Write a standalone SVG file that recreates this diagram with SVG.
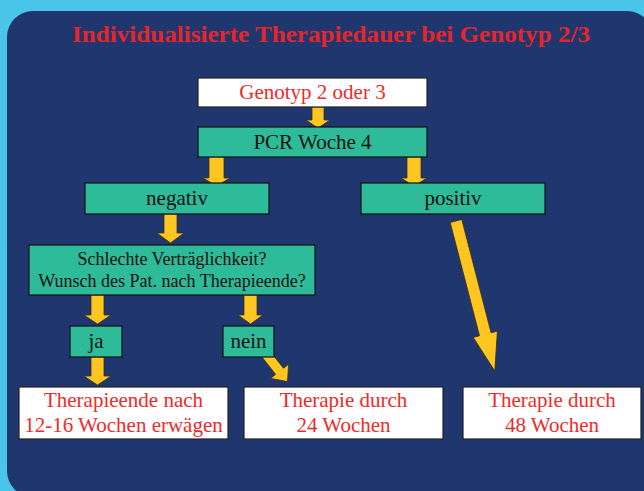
<svg xmlns="http://www.w3.org/2000/svg" width="644" height="491" viewBox="0 0 644 491">
<defs>
<style>
.bg{fill:#48C5E9}
.panel{fill:#1F366F}
.w{fill:#FFFFFF;stroke:#222;stroke-width:1.2}
.g{fill:#2EBB9A;stroke:#111;stroke-width:1.2}
.tr{font-family:"Liberation Serif","Times New Roman",serif;font-size:21px;fill:#EE2A2A;text-anchor:middle}
.tb{font-family:"Liberation Serif","Times New Roman",serif;font-size:21px;fill:#111;text-anchor:middle}
.ts{font-family:"Liberation Serif","Times New Roman",serif;font-size:18px;fill:#111;text-anchor:middle}
.title{font-family:"Liberation Serif","Times New Roman",serif;font-size:24px;font-weight:bold;fill:#E4262B;text-anchor:middle}
.arr{fill:#FFC622;stroke:#3a3418;stroke-width:0.8;stroke-linejoin:miter}
</style>
</defs>
<rect class="bg" x="0" y="0" width="644" height="491"/>
<rect class="panel" x="7" y="11" width="646" height="486" rx="26" ry="26"/>
<text class="title" x="331" y="42" textLength="518" lengthAdjust="spacingAndGlyphs">Individualisierte Therapiedauer bei Genotyp 2/3</text>

<g id="connectors">
<path class="arr" d="M312,107 H324 V120 H330 L318,128 L306,120 H312 Z"/>
<path class="arr" d="M209,157 H224 V178 H230 L216.5,186 L203,178 H209 Z"/>
<path class="arr" d="M407,157 H421 V178 H427 L414,186 L401,178 H407 Z"/>
<path class="arr" d="M164,214 H177 V233 H184 L170.5,243 L157,233 H164 Z"/>
<path class="arr" d="M91,295 H104 V315 H111 L97.5,324 L84,315 H91 Z"/>
<path class="arr" d="M244,295 H257 V315 H263 L250.5,324 L238,315 H244 Z"/>
<path class="arr" d="M91,357 H104 V376 H111 L97.5,385 L84,376 H91 Z"/>
<path class="arr" transform="translate(456,221) rotate(-14.5)" d="M-6,0 H6 V117 H12.5 L0,155 L-12.5,117 H-6 Z"/>
<path class="arr" transform="translate(266,354) rotate(-38)" d="M-5,0 H5 V22 H11.5 L0,35 L-11.5,22 H-5 Z"/>
</g>

<g id="genotyp">
<rect class="w" x="198" y="78" width="229" height="29"/>
<text class="tr" x="312.5" y="99">Genotyp 2 oder 3</text>
</g>
<g id="pcr">
<rect class="g" x="198" y="127" width="229" height="30"/>
<text class="tb" x="312.5" y="149">PCR Woche 4</text>
</g>
<g id="negativ">
<rect class="g" x="85" y="183" width="184" height="31"/>
<text class="tb" x="177" y="205">negativ</text>
</g>
<g id="positiv">
<rect class="g" x="361" y="183" width="184" height="31"/>
<text class="tb" x="453" y="205">positiv</text>
</g>
<g id="frage">
<rect class="g" x="29" y="245" width="286" height="50"/>
<text class="ts" x="172" y="265">Schlechte Verträglichkeit?</text>
<text class="ts" x="172" y="287">Wunsch des Pat. nach Therapieende?</text>
</g>
<g id="ja">
<rect class="g" x="70" y="326" width="52" height="31"/>
<text class="tb" x="96" y="348">ja</text>
</g>
<g id="nein">
<rect class="g" x="223" y="326" width="51" height="31"/>
<text class="tb" x="248.5" y="348">nein</text>
</g>
<g id="ende">
<rect class="w" x="19" y="387" width="209" height="52"/>
<text class="tr" x="123.5" y="407">Therapieende nach</text>
<text class="tr" x="123.5" y="432">12-16 Wochen erwägen</text>
</g>
<g id="w24">
<rect class="w" x="244" y="387" width="199" height="52"/>
<text class="tr" x="343.5" y="407">Therapie durch</text>
<text class="tr" x="343.5" y="432">24 Wochen</text>
</g>
<g id="w48">
<rect class="w" x="463" y="387" width="178" height="52"/>
<text class="tr" x="552" y="407">Therapie durch</text>
<text class="tr" x="552" y="432">48 Wochen</text>
</g>
</svg>
